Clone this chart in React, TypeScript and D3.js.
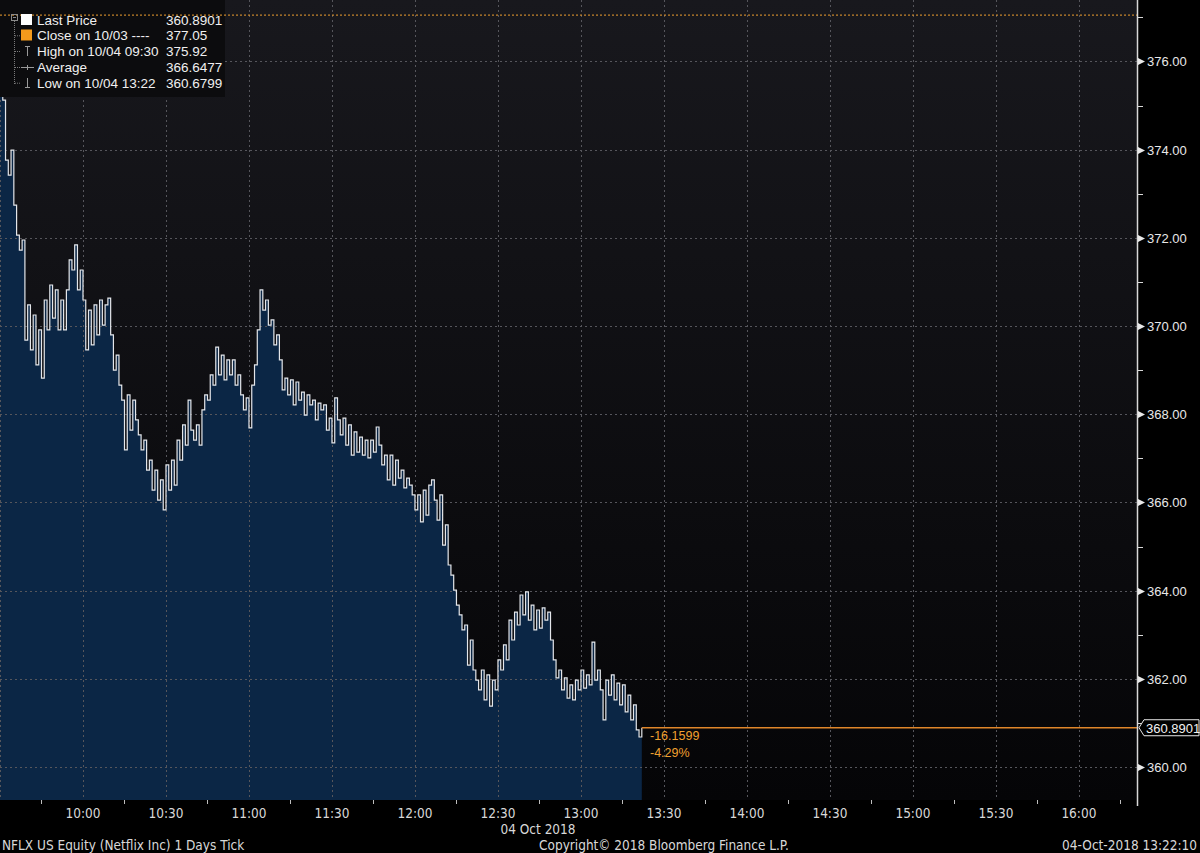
import React from "react";
import * as d3 from "d3";

// ---- DATA ----
// tick prices from 09:30 to 13:22 (evenly spaced in time)
const prices: number[] = [
  375.92, 375.12, 373.76, 373.42, 373.99, 372.74, 372.06, 371.72, 371.95, 369.68,
  370.48, 369.46, 370.25, 369.12, 369.91, 368.82, 370.59, 369.91, 370.93, 370.18,
  370.82, 369.91, 370.59, 369.91, 370.82, 371.5, 371.27, 371.84, 370.82, 371.27,
  370.59, 369.46, 370.36, 369.57, 370.48, 369.8, 370.59, 370.02, 370.48, 370.63,
  369.8, 369.0, 369.34, 368.66, 368.32, 367.19, 368.44, 367.64, 368.32, 367.87,
  367.53, 367.19, 367.41, 366.73, 366.96, 366.28, 366.73, 366.05, 366.51, 365.83,
  366.85, 366.28, 366.96, 366.39, 367.41, 366.96, 367.76, 367.3, 368.32, 367.64,
  367.41, 367.76, 367.3, 368.1, 368.44, 368.32, 368.89, 368.66, 369.52, 368.89,
  369.34, 368.78, 369.23, 368.89, 369.23, 368.66, 368.89, 368.44, 368.1, 368.37,
  367.69, 368.66, 369.12, 369.91, 370.82, 370.36, 370.59, 370.02, 370.14, 369.57,
  369.8, 369.23, 368.55, 368.82, 368.44, 368.78, 368.21, 368.73, 368.32, 368.5,
  367.98, 368.44, 368.21, 368.32, 367.87, 368.25, 368.1, 368.21, 367.64, 367.91,
  367.35, 368.37, 367.87, 367.53, 367.91, 367.3, 367.76, 367.07, 367.6, 367.14,
  367.48, 367.07, 367.41, 367.01, 367.41, 367.14, 367.71, 367.3, 366.85, 367.07,
  366.51, 367.07, 366.39, 366.96, 366.55, 366.73, 366.33, 366.55, 366.39, 366.17,
  365.83, 366.17, 365.56, 366.28, 365.71, 366.39, 366.51, 366.05, 365.6, 366.17,
  365.03, 365.49, 364.58, 364.35, 364.01, 363.67, 363.45, 363.11, 363.22, 362.31,
  362.88, 362.2, 361.97, 361.75, 362.2, 361.52, 362.09, 361.38, 361.97, 361.75,
  362.43, 362.2, 362.77, 362.43, 363.33, 362.88, 363.51, 363.22, 363.9, 363.45,
  363.97, 363.33, 363.67, 363.11, 363.56, 363.15, 363.61, 363.33, 363.51, 362.88,
  362.43, 362.02, 362.2, 361.75, 362.02, 361.56, 361.86, 361.52, 361.97, 361.75,
  362.2, 361.79, 362.09, 361.86, 362.83, 361.97, 362.2, 361.75, 361.07, 361.97,
  361.63, 362.09, 361.52, 361.9, 361.41, 361.86, 361.25, 361.63, 361.07, 361.41,
  360.84, 360.68, 360.89,
];
const startMinute = 0; // 09:30
const endMinute = 232; // 13:22
const sessionEndMinute = 411; // right edge of the plot

const yTicks = [360, 362, 364, 366, 368, 370, 372, 374, 376];
const yMinorTicks = [361, 363, 365, 367, 369, 371, 373, 375, 377];
const xTickMinutes = [30, 60, 90, 120, 150, 180, 210, 240, 270, 300, 330, 360, 390];
const xTickLabels = ["10:00", "10:30", "11:00", "11:30", "12:00", "12:30", "13:00", "13:30", "14:00", "14:30", "15:00", "15:30", "16:00"];
const xMinorMinutes = [15, 45, 75, 105, 135, 165, 195, 225, 255, 285, 315, 345, 375, 405];
const gridMinutes = [0, 30, 60, 90, 120, 150, 180, 210, 240, 270, 300, 330, 360, 390];

const legendLabels = ["Last Price", "Close on 10/03 ----", "High on 10/04 09:30", "Average", "Low on 10/04 13:22"];
const legendValues = ["360.8901", "377.05", "375.92", "366.6477", "360.6799"];
const prevClose = 377.05;
const lastPrice = 360.8901;
const lastPriceLabel = "360.8901";
const changeLabels = ["-16.1599", "-4.29%"];
const dateLabel = "04 Oct 2018";
const footerLeft = "NFLX US Equity (Netflix Inc) 1 Days  Tick";
const footerCenter = "Copyright\u00A9 2018 Bloomberg Finance L.P.";
const footerRight = "04-Oct-2018 13:22:10";

// ---- LAYOUT ----
const W = 1200;
const H = 853;
const plotLeft = 0;
const plotRight = 1137;
const plotTop = 0;
const plotBottom = 800;

const narrow = "'Liberation Sans Narrow', 'Arial Narrow', 'DejaVu Sans Condensed', 'Roboto Condensed', sans-serif";
const regular = "'Liberation Sans', Arial, sans-serif";

export default function App() {
  const x = d3.scaleLinear().domain([startMinute, sessionEndMinute]).range([plotLeft, plotRight]);
  const y = d3.scaleLinear().domain([360, 376]).range([767, 61.4]);

  const n = prices.length;
  const pts = prices.map((p, i) => ({ t: startMinute + (i * (endMinute - startMinute)) / (n - 1), p }));

  const area = d3
    .area<{ t: number; p: number }>()
    .x((d) => x(d.t))
    .y0(plotBottom)
    .y1((d) => y(d.p))
    .curve(d3.curveStepAfter);
  const line = d3
    .line<{ t: number; p: number }>()
    .x((d) => x(d.t))
    .y((d) => y(d.p))
    .curve(d3.curveStepAfter);

  const yLast = y(lastPrice);
  const xLast = x(endMinute);
  const yClose = y(prevClose);

  const rowBase = [24.5, 40.3, 56, 72, 87.7];

  return (
    <svg
      width={W}
      height={H}
      style={{ position: "absolute", left: 0, top: 0, background: "#000", display: "block" }}
    >
      <defs>
        <linearGradient id="bg" x1="0" y1="0" x2="0" y2="1">
          <stop offset="0%" stopColor="#18181d" />
          <stop offset="100%" stopColor="#050507" />
        </linearGradient>
      </defs>
      <rect x={0} y={0} width={W} height={H} fill="#000" />
      <rect x={plotLeft} y={plotTop} width={plotRight - plotLeft} height={plotBottom - plotTop} fill="url(#bg)" />

      {/* area */}
      <path d={area(pts) || ""} fill="#0b2645" />

      {/* grid */}
      {gridMinutes.map((m) => (
        <line
          key={"vg" + m}
          x1={Math.round(x(m)) + 0.5}
          x2={Math.round(x(m)) + 0.5}
          y1={plotTop}
          y2={plotBottom}
          stroke="#56565c"
          strokeWidth={1}
          strokeDasharray="2,3"
        />
      ))}
      {yTicks.map((v) => (
        <line
          key={"hg" + v}
          x1={plotLeft}
          x2={plotRight}
          y1={Math.round(y(v)) + 0.5}
          y2={Math.round(y(v)) + 0.5}
          stroke="#56565c"
          strokeWidth={1}
          strokeDasharray="2,3"
        />
      ))}

      {/* price line */}
      <path d={line(pts) || ""} fill="none" stroke="#e4e6ea" strokeWidth={1.2} />

      {/* previous close dotted line */}
      <line x1={plotLeft} x2={plotRight} y1={yClose} y2={yClose} stroke="#f0a030" strokeWidth={1} strokeDasharray="2,2" />

      {/* last price line */}
      <line x1={xLast} x2={plotRight} y1={yLast} y2={yLast} stroke="#e0862a" strokeWidth={1.5} />
      <text x={650} y={740} fill="#f0a030" fontFamily={regular} fontSize={12.5}>
        {changeLabels[0]}
      </text>
      <text x={650} y={757} fill="#f0a030" fontFamily={regular} fontSize={12.5}>
        {changeLabels[1]}
      </text>

      {/* right axis */}
      <line x1={plotRight + 0.5} x2={plotRight + 0.5} y1={plotTop} y2={plotBottom + 6} stroke="#d8d8d8" strokeWidth={1.5} />
      {yMinorTicks.map((v) => (
        <line key={"ym" + v} x1={plotRight} x2={plotRight + 6} y1={Math.round(y(v)) + 0.5} y2={Math.round(y(v)) + 0.5} stroke="#d8d8d8" strokeWidth={1} />
      ))}
      {yTicks.map((v) => {
        const yy = Math.round(y(v)) + 0.5;
        return (
          <g key={"yt" + v}>
            <path d={`M${plotRight + 1},${yy - 3.5} L${plotRight + 8},${yy} L${plotRight + 1},${yy + 3.5} Z`} fill="#e8e8e8" />
            <text x={plotRight + 10} y={yy + 4.5} fill="#e8e8e8" fontFamily={regular} fontSize={13}>
              {v.toFixed(2)}
            </text>
          </g>
        );
      })}
      {/* last price label */}
      <path
        d={`M${plotRight + 2},${yLast} L${plotRight + 7},${yLast - 8} L${W - 1},${yLast - 8} L${W - 1},${yLast + 8} L${plotRight + 7},${yLast + 8} Z`}
        fill="#000"
        stroke="#e8e8e8"
        strokeWidth={1}
      />
      <text x={plotRight + 9} y={yLast + 5} fill="#f2f2f2" fontFamily={regular} fontSize={13}>
        {lastPriceLabel}
      </text>

      {/* bottom axis */}
      {xMinorMinutes.map((m) => (
        <line key={"xm" + m} x1={Math.round(x(m)) + 0.5} x2={Math.round(x(m)) + 0.5} y1={plotBottom} y2={plotBottom + 4} stroke="#bdbdbd" strokeWidth={1} />
      ))}
      {xTickMinutes.map((m, i) => (
        <text key={"xl" + m} x={x(m)} y={818} fill="#d8d8d8" fontFamily={narrow} fontSize={13.5} textAnchor="middle">
          {xTickLabels[i]}
        </text>
      ))}
      <text x={538} y={834} fill="#d8d8d8" fontFamily={narrow} fontSize={13.5} textAnchor="middle">
        {dateLabel}
      </text>

      {/* footer */}
      <text x={2} y={850} fill="#d8d8d8" fontFamily={narrow} fontSize={13.5}>
        {footerLeft}
      </text>
      <text x={539} y={850} fill="#d8d8d8" fontFamily={narrow} fontSize={13.5}>
        {footerCenter}
      </text>
      <text x={1197} y={850} fill="#d8d8d8" fontFamily={narrow} fontSize={13.5} textAnchor="end">
        {footerRight}
      </text>

      {/* legend */}
      <rect x={0} y={0} width={225} height={97} fill="#0c0c0e" />
      <line x1={0} x2={225} y1={yClose} y2={yClose} stroke="#f0a030" strokeWidth={1} strokeDasharray="2,2" />
      {/* tree */}
      <rect x={11.5} y={14.5} width={6} height={6} fill="none" stroke="#8a8a8a" strokeWidth={1} />
      <line x1={13} x2={16} y1={17.5} y2={17.5} stroke="#8a8a8a" />
      <line x1={14.5} x2={14.5} y1={21} y2={84} stroke="#7a7a7a" strokeDasharray="1,1" />
      {[1, 2, 3, 4].map((r) => (
        <line key={"st" + r} x1={15} x2={21} y1={rowBase[r] - 4.5} y2={rowBase[r] - 4.5} stroke="#7a7a7a" strokeDasharray="1,1" />
      ))}
      <rect x={21} y={14} width={11} height={11} fill="#ffffff" />
      <rect x={21} y={29.5} width={11} height={11} fill="#f39a1c" />
      {/* high symbol */}
      <line x1={27.5} x2={27.5} y1={46} y2={56} stroke="#9a9a9a" strokeWidth={1} />
      <line x1={25} x2={30} y1={46.5} y2={46.5} stroke="#9a9a9a" strokeWidth={1} />
      {/* average symbol */}
      <line x1={21} x2={34} y1={67.5} y2={67.5} stroke="#9a9a9a" strokeWidth={1} />
      <line x1={27.5} x2={27.5} y1={65} y2={70} stroke="#9a9a9a" strokeWidth={1} />
      {/* low symbol */}
      <line x1={27.5} x2={27.5} y1={78} y2={88} stroke="#9a9a9a" strokeWidth={1} />
      <line x1={25} x2={30} y1={87.5} y2={87.5} stroke="#9a9a9a" strokeWidth={1} />
      {legendLabels.map((lab, i) => (
        <g key={"lg" + i}>
          <text x={37} y={rowBase[i]} fill="#f0f0f0" fontFamily={regular} fontSize={13.5}>
            {lab}
          </text>
          <text x={166} y={rowBase[i]} fill="#f0f0f0" fontFamily={regular} fontSize={13.5}>
            {legendValues[i]}
          </text>
        </g>
      ))}
    </svg>
  );
}
